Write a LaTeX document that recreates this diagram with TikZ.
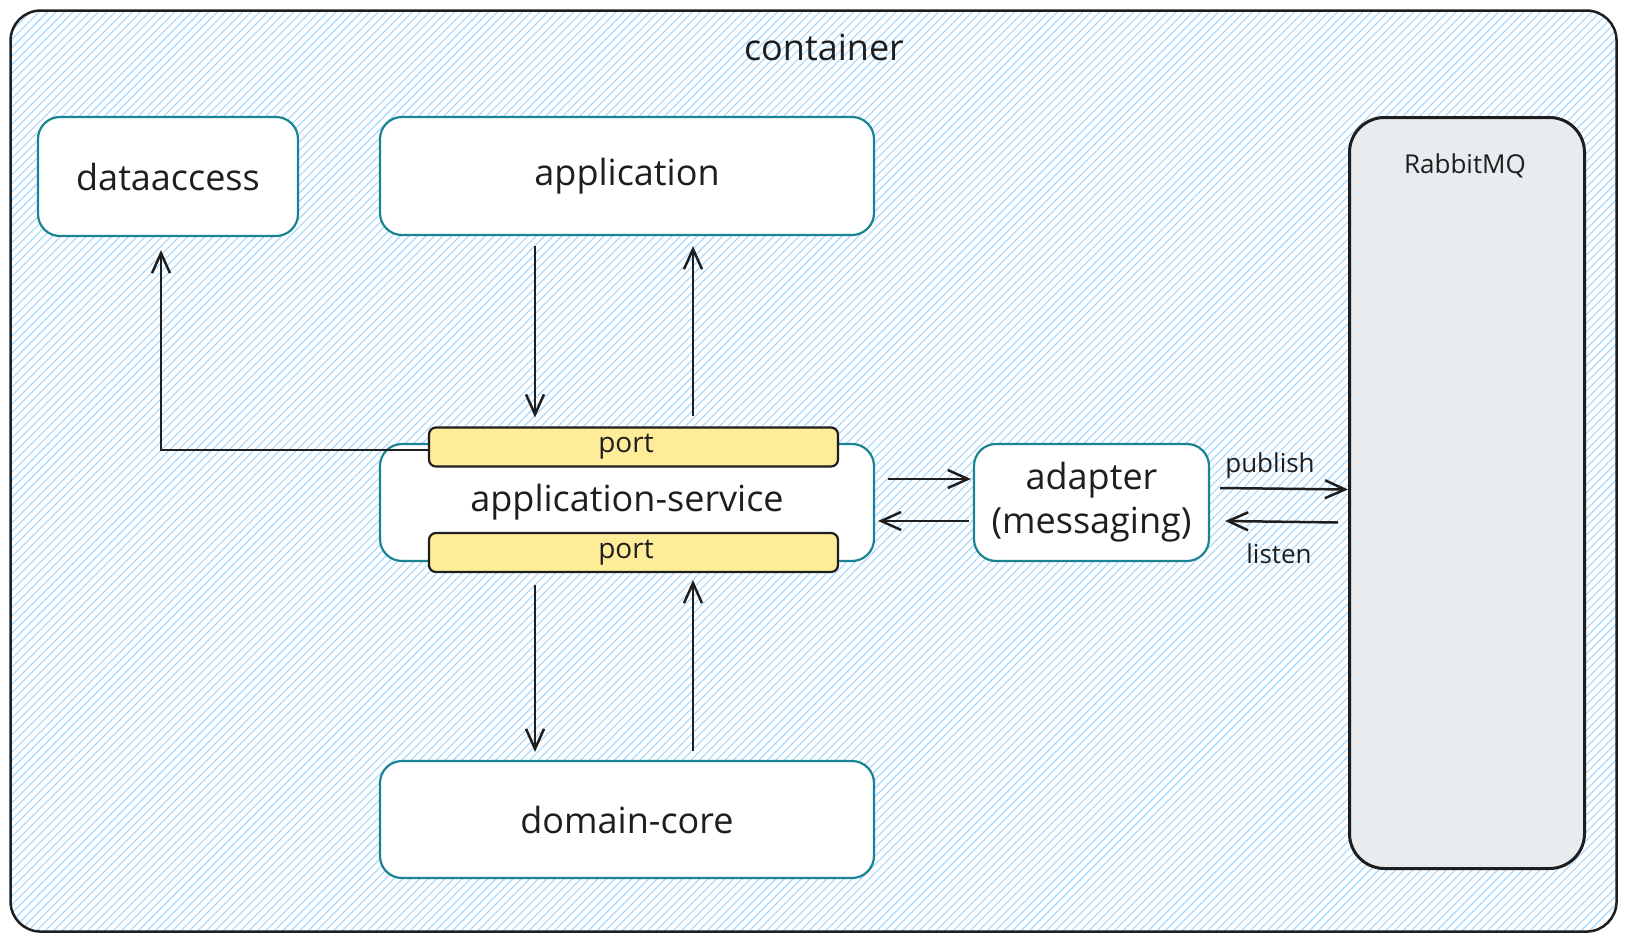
\documentclass[tikz,border=0pt]{standalone}
\usepackage{fontspec}
\setmainfont{Open Sans}
\usetikzlibrary{arrows.meta,patterns.meta,calc}
\definecolor{ink}{HTML}{1E1E1E}
\definecolor{tealb}{HTML}{1A8494}
\definecolor{hatch}{HTML}{A5D8FF}
\definecolor{portfill}{HTML}{FFEC99}
\definecolor{rabbitfill}{HTML}{E9ECEF}
\begin{document}
\begin{tikzpicture}[x=1pt,y=-1pt,
  lbl/.style={font=\fontsize{36}{44}\selectfont, text=ink},
  small/.style={font=\fontsize{26}{30}\selectfont, text=ink},
  box/.style={draw=tealb, line width=2.2pt, fill=white, rounded corners=22pt, lbl, inner sep=0pt},
  portbox/.style={draw=ink, line width=2.2pt, fill=portfill, rounded corners=7pt,
    minimum width=409pt, minimum height=39pt, inner sep=0pt},
  porttext/.style={font=\fontsize{28}{32}\selectfont, text=ink},
  arr/.style={draw=ink, line width=2.5pt, -{Straight Barb[length=20pt,width=18pt,line width=2.5pt]}},
]
\useasboundingbox (0,0) rectangle (1626,942);
\fill[white] (0,0) rectangle (1626,942);
% container
\node[draw=ink, line width=2.5pt, rounded corners=30pt, minimum width=1606pt, minimum height=921pt,
  anchor=north west, inner sep=0pt, preaction={fill=white},
  pattern={Lines[angle=45,distance=6pt,line width=1.1pt]}, pattern color=hatch] (cont) at (10,10) {};
\node[lbl] (ctitle) at (824,47) {container};
% boxes
\node[box, minimum width=260pt, minimum height=119pt] (da) at (168,176.5) {dataaccess};
\node[box, minimum width=494pt, minimum height=118pt] (app) at (627,176) {application};
\node[box, minimum width=494pt, minimum height=117pt] (svc) at (627,502.5) {application-service};
\node[box, minimum width=494pt, minimum height=117pt] (dom) at (627,819.5) {domain-core};
\node[box, minimum width=235pt, minimum height=117pt, align=center] (ad) at (1091.5,502.5) {adapter\\(messaging)};
\node[draw=ink, line width=3pt, fill=rabbitfill, rounded corners=35pt, minimum width=235pt, minimum height=751pt,
  anchor=north west, inner sep=0pt] (rmq) at (1348,116) {};
\node[small] (rmqt) at (1465,166) {RabbitMQ};
% ports
\node[portbox] (pt) at (633.5,447) {};
\node[porttext] (ptt) at ($(pt.center)+(-7.5,0)$) {port};
\node[portbox] (pb) at (633.5,552.5) {};
\node[porttext] (pbt) at ($(pb.center)+(-7.5,0)$) {port};
% connectors
\draw[arr] ($(app.south)+(-92,10)$) -- ($(pt.north)+(-98.5,-9)$);
\draw[arr] ($(pt.north)+(59.5,-10)$) -- ($(app.south)+(66,10)$);
\draw[arr] ($(pt.west)+(0,3)$) -| ($(da.south)+(-7,13)$);
\draw[arr] ($(pb.south)+(-98.5,12)$) -- ($(dom.north)+(-92,-8)$);
\draw[arr] ($(dom.north)+(66,-9)$) -- ($(pb.south)+(59.5,7)$);
\draw[arr] ($(svc.east)+(13,-23.5)$) -- ($(ad.west)+(-2,-23.5)$);
\draw[arr] ($(ad.west)+(-4,18.5)$) -- ($(svc.east)+(3,18.5)$);
\draw[arr] ($(ad.east)+(10,-14.5)$) -- ($(rmq.west)+(0,-3.5)$);
\draw[arr] ($(rmq.west)+(-10,29.5)$) -- ($(ad.east)+(15,18.5)$);
\node[small] (pub) at (1270,466) {publish};
\node[small] (lis) at (1279,554) {listen};
\end{tikzpicture}
\end{document}
